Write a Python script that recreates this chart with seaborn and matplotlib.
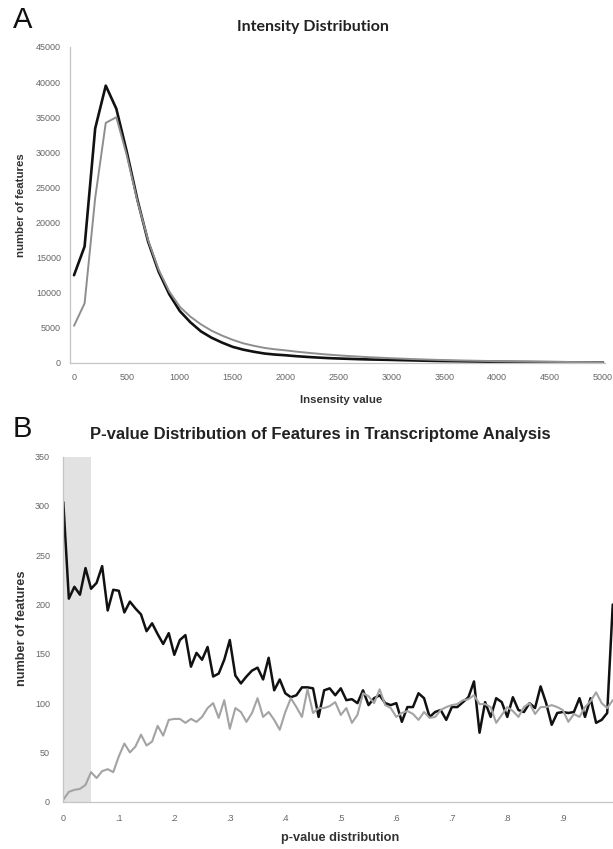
import numpy as np
import pandas as pd
import matplotlib
matplotlib.use("Agg")
import matplotlib.pyplot as plt
from matplotlib.ticker import MultipleLocator, FixedLocator
import seaborn as sns

# ---------------- data: panel A (intensity distribution) ----------------
intensity_bins = list(range(0, 5001, 100))  # category positions (bins of 100)
intensity_black = [12500, 16600, 33400, 39500, 36200, 30000, 23200, 17300, 13000, 9800,
                   7400, 5800, 4500, 3600, 2900, 2300, 1900, 1600, 1350, 1200,
                   1100, 970, 870, 780, 700, 640, 590, 540, 500, 470,
                   440, 400, 370, 330, 300, 270, 250, 230, 210, 190,
                   170, 160, 145, 135, 125, 115, 105, 95, 90, 85, 80]
intensity_gray = [5300, 8500, 23500, 34200, 35000, 29500, 23000, 17500, 13300, 10200,
                  8000, 6600, 5500, 4600, 3900, 3300, 2800, 2450, 2150, 1950,
                  1800, 1620, 1470, 1330, 1200, 1090, 990, 900, 820, 750,
                  680, 620, 560, 510, 460, 420, 380, 350, 320, 290,
                  260, 240, 220, 200, 180, 165, 150, 140, 130, 120, 110]
intensity_ticks = [0, 500, 1000, 1500, 2000, 2500, 3000, 3500, 4000, 4500, 5000]
intensity_yticks = [0, 5000, 10000, 15000, 20000, 25000, 30000, 35000, 40000, 45000]

# ---------------- data: panel B (p-value distribution) ----------------
pvalue_bins = [round(i / 100, 2) for i in range(100)]  # bins 0.00 .. 0.99
pvalue_black = [304, 206, 218, 210, 237, 216, 222, 239, 194, 215,
                214, 192, 203, 196, 190, 173, 181, 170, 160, 171,
                149, 164, 169, 137, 151, 144, 157, 127, 130, 144,
                164, 128, 120, 127, 133, 136, 124, 146, 113, 124,
                110, 106, 108, 116, 116, 115, 86, 113, 115, 108,
                115, 103, 104, 100, 113, 98, 105, 108, 100, 98,
                100, 81, 96, 96, 110, 105, 86, 91, 93, 83,
                96, 96, 101, 106, 122, 70, 101, 86, 105, 101,
                86, 106, 93, 91, 100, 95, 117, 100, 78, 90,
                91, 90, 91, 105, 86, 105, 80, 83, 90, 200]
pvalue_gray = [2, 10, 12, 13, 17, 30, 24, 31, 33, 30,
               46, 59, 50, 56, 68, 57, 61, 77, 67, 83,
               84, 84, 80, 84, 81, 86, 95, 100, 85, 103,
               74, 95, 91, 81, 90, 105, 86, 91, 83, 73,
               91, 105, 96, 86, 114, 90, 95, 95, 97, 101,
               88, 95, 80, 88, 110, 107, 100, 114, 98, 95,
               86, 90, 92, 89, 83, 91, 85, 86, 93, 96,
               98, 99, 103, 104, 108, 99, 99, 96, 80, 88,
               96, 92, 86, 96, 100, 89, 96, 96, 98, 96,
               93, 81, 89, 86, 96, 102, 111, 100, 95, 103]
pvalue_ticks = [0, 0.1, 0.2, 0.3, 0.4, 0.5, 0.6, 0.7, 0.8, 0.9]
pvalue_ticklabels = ["0", ".1", ".2", ".3", ".4", ".5", ".6", ".7", ".8", ".9"]
pvalue_yticks = [0, 50, 100, 150, 200, 250, 300, 350]
highlight_range = (0, 0.05)

# ---------------- styling ----------------
sns.set_style("white")
plt.rcParams['font.family'] = ['Liberation Sans', 'DejaVu Sans']

W, H = 613, 849
fig = plt.figure(figsize=(W / 100, H / 100), dpi=100)

def fx(px):
    return px / W

def fy(py):
    return 1 - py / H

spine_col = '#c4c4c4'
tick_col = '#666666'

def style_axes(ax, labelsize, xpad, ypad):
    sns.despine(ax=ax)
    for s in ('left', 'bottom'):
        ax.spines[s].set_color(spine_col)
        ax.spines[s].set_linewidth(0.9)
    ax.tick_params(axis='both', which='both', direction='out', color=spine_col,
                   width=0.8, labelcolor=tick_col, labelsize=labelsize)
    ax.tick_params(axis='x', which='major', length=3, pad=xpad)
    ax.tick_params(axis='x', which='minor', length=2.5)
    ax.tick_params(axis='y', which='major', length=2.5, pad=ypad)
    ax.set_xlabel('')
    ax.set_ylabel('')
    ax.grid(False)

# ---------------- Panel A ----------------
axA = fig.add_axes([fx(70), fy(363), fx(605) - fx(70), fy(47) - fy(363)])
dfA = pd.DataFrame({'value': intensity_bins, 'black': intensity_black, 'gray': intensity_gray})
sns.lineplot(data=dfA, x='value', y='black', ax=axA, color='#111111', linewidth=1.9, legend=False)
sns.lineplot(data=dfA, x='value', y='gray', ax=axA, color='#8e8e8e', linewidth=1.4, legend=False)
axA.set_xlim(-38, 5019)
axA.set_ylim(0, 45000)
axA.xaxis.set_major_locator(FixedLocator(intensity_ticks))
axA.xaxis.set_minor_locator(FixedLocator(intensity_bins))
axA.set_xticklabels([str(t) for t in intensity_ticks])
axA.set_yticks(intensity_yticks)
axA.set_yticklabels([str(t) for t in intensity_yticks])
style_axes(axA, 6.5, 4, 4)

fig.text(fx(23), fy(20), 'A', fontsize=21, ha='center', va='center', color='#111111')
fig.text(fx(313), fy(27), 'Intensity Distribution', fontsize=11.5, fontweight='bold',
         family=['Lato', 'DejaVu Sans'], ha='center', va='center', color='#222222')
fig.text(fx(21.5), fy(205), 'number of features', fontsize=8.2, fontweight='bold',
         rotation=90, ha='center', va='center', color='#333333')
fig.text(fx(341), fy(400), 'Insensity value', fontsize=8.2, fontweight='bold',
         ha='center', va='center', color='#333333')

# ---------------- Panel B ----------------
x0, x1 = 63.3, 618.3
axB = fig.add_axes([fx(x0), fy(801.7), fx(x1) - fx(x0), fy(456.7) - fy(801.7)])
axB.axvspan(highlight_range[0], highlight_range[1], color='#e2e2e2', zorder=0, lw=0)
dfB = pd.DataFrame({'p': pvalue_bins, 'black': pvalue_black, 'gray': pvalue_gray})
sns.lineplot(data=dfB, x='p', y='black', ax=axB, color='#111111', linewidth=1.8, legend=False)
sns.lineplot(data=dfB, x='p', y='gray', ax=axB, color='#a3a3a3', linewidth=1.5, legend=False)
axB.set_xlim(0, 1.0)
axB.set_ylim(0, 350)
axB.set_xticks(pvalue_ticks)
axB.set_xticklabels(pvalue_ticklabels)
axB.set_yticks(pvalue_yticks)
axB.set_yticklabels([str(t) for t in pvalue_yticks])
style_axes(axB, 6.5, 6, 7)

fig.text(fx(22.5), fy(429), 'B', fontsize=21, ha='center', va='center', color='#111111')
fig.text(fx(320), fy(435), 'P-value Distribution of Features in Transcriptome Analysis',
         fontsize=12, fontweight='bold', ha='center', va='center', color='#222222')
fig.text(fx(22), fy(628), 'number of features', fontsize=9.2, fontweight='bold',
         rotation=90, ha='center', va='center', color='#333333')
fig.text(fx(340), fy(838), 'p-value distribution', fontsize=9.2, fontweight='bold',
         ha='center', va='center', color='#333333')

fig.savefig('out.png', dpi=100)
